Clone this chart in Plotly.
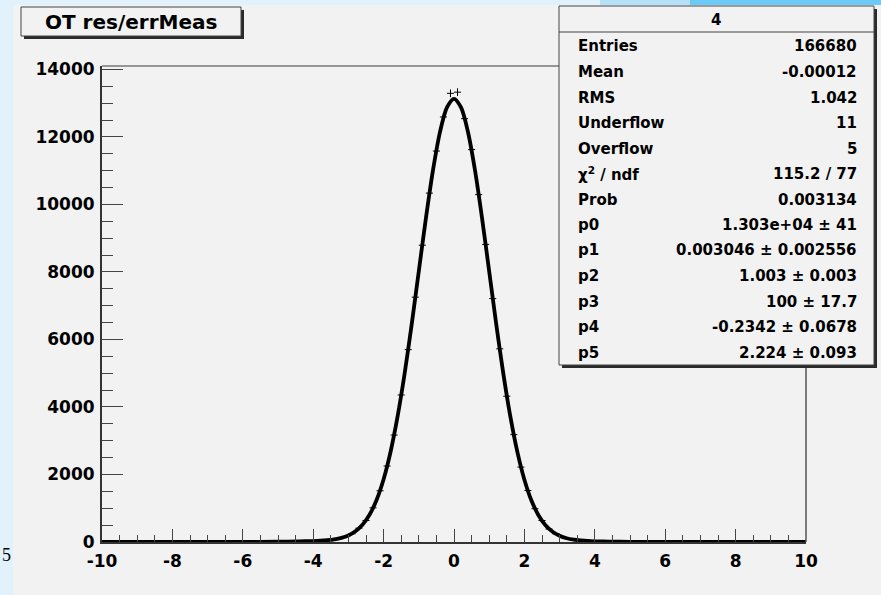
import numpy as np
import plotly.graph_objects as go

# ---------------- data ----------------
bin_width = 0.2
bin_centers = np.round(np.arange(-9.9, 10.0, bin_width), 1)

counts = [
    0, 0, 1, 0, 0, 1, 0, 0, 1, 0,
    1, 0, 1, 2, 1, 2, 1, 3, 2, 4,
    3, 5, 7, 8, 9, 12, 13, 18, 20, 26,
    34, 42, 66, 95, 158, 244, 409, 637, 1012, 1518,
    2251, 3168, 4356, 5698, 7252, 8791, 10335, 11580, 12590, 13290,
    13325, 12540, 11625, 10290, 8815, 7210, 5722, 4318, 3181, 2219,
    1525, 985, 637, 384, 241, 139, 88, 52, 36, 24,
    19, 13, 11, 9, 7, 6, 4, 5, 3, 2,
    3, 2, 1, 1, 2, 0, 1, 0, 1, 0,
    0, 1, 0, 0, 0, 1, 0, 0, 0, 0,
]

fit_x = [-10, -9, -8, -7, -6, -5, -4.4, -4.0, -3.8, -3.6, -3.4, -3.2, -3.0, -2.8, -2.6,
         -2.4, -2.2, -2.0, -1.8, -1.6, -1.4, -1.2, -1.0, -0.8, -0.6, -0.4, -0.2, 0.0,
         0.2, 0.4, 0.6, 0.8, 1.0, 1.2, 1.4, 1.6, 1.8, 2.0, 2.2, 2.4, 2.6, 2.8, 3.0,
         3.2, 3.4, 3.6, 3.8, 4.0, 4.4, 5, 6, 7, 8, 9, 10]
fit_y = [0, 0, 0.2, 1.0, 3.5, 10.1, 18.3, 28.8, 37.6, 52.8, 78.3, 121, 195, 316, 510,
         806, 1243, 1858, 2682, 3734, 5006, 6461, 8022, 9578, 10995, 12135, 12873, 13129,
         12871, 12131, 10989, 9571, 8014, 6451, 4995, 3722, 2670, 1845, 1230, 794, 497, 304, 184,
         110, 68, 44, 29, 21, 12.4, 6.3, 2.0, 0.5, 0.1, 0, 0]

x_tickvals = [-10, -8, -6, -4, -2, 0, 2, 4, 6, 8, 10]
x_ticktext = ["-10", "-8", "-6", "-4", "-2", "0", "2", "4", "6", "8", "10"]
y_tickvals = [0, 2000, 4000, 6000, 8000, 10000, 12000, 14000]
y_ticktext = ["0", "2000", "4000", "6000", "8000", "10000", "12000", "14000"]

title_text = "OT res/errMeas"
stats_header = "4"
stats_labels = ["Entries", "Mean", "RMS", "Underflow", "Overflow", "χ<sup>2</sup> / ndf", "Prob",
                "p0", "p1", "p2", "p3", "p4", "p5"]
stats_values = ["166680", "-0.00012", "1.042", "11", "5", "115.2 / 77", "0.003134",
                "1.303e+04 ± 41", "0.003046 ± 0.002556", "1.003 ± 0.003", "100 ± 17.7",
                "-0.2342 ± 0.0678", "2.224 ± 0.093"]

x_range = [-10, 10]
y_range = [0, 14100]

# ---------------- layout geometry (pixels) ----------------
W, H = 881, 595
L, R, T, B = 102, 806, 66, 542


def px(x):
    return (x - L) / (R - L)


def py(y):
    return (B - y) / (B - T)


FONT = "DejaVu Sans"
CANVAS = "#f2f2f2"

fig = go.Figure()

fig.add_trace(go.Scatter(
    x=bin_centers, y=counts, mode="markers",
    marker=dict(size=1, color="black"),
    error_y=dict(type="data", array=np.sqrt(np.array(counts, dtype=float)),
                 width=0, thickness=1, color="black"),
    error_x=dict(type="constant", value=bin_width / 2, width=0, thickness=1, color="black"),
    hoverinfo="skip", showlegend=False,
))

fig.add_trace(go.Scatter(
    x=fit_x, y=fit_y, mode="lines",
    line=dict(color="black", width=3.8, shape="spline", smoothing=0.8),
    hoverinfo="skip", showlegend=False,
))

shapes = []
# gray canvas (slide background is light blue)
shapes.append(dict(type="rect", xref="paper", yref="paper", layer="below",
                   x0=px(13), x1=px(W + 5), y0=py(5), y1=py(H + 5),
                   fillcolor=CANVAS, line=dict(width=0)))
# bright blue band at top right
shapes.append(dict(type="rect", xref="paper", yref="paper", layer="below",
                   x0=px(600), x1=px(690), y0=py(0), y1=py(5),
                   fillcolor="#b4e0f8", line=dict(width=0)))
shapes.append(dict(type="rect", xref="paper", yref="paper", layer="below",
                   x0=px(690), x1=px(W + 5), y0=py(0), y1=py(5),
                   fillcolor="#6ccaf6", line=dict(width=0)))
# frame top / right
shapes.append(dict(type="line", xref="paper", yref="paper", layer="above",
                   x0=0, x1=1, y0=1, y1=1, line=dict(color="#777777", width=1.5)))
shapes.append(dict(type="line", xref="paper", yref="paper", layer="above",
                   x0=1, x1=1, y0=0, y1=1, line=dict(color="#555555", width=1.5)))


def box(x0, y0, x1, y1):
    # shadow
    shapes.append(dict(type="rect", xref="paper", yref="paper", layer="above",
                       x0=px(x0 + 3), x1=px(x1 + 3), y0=py(y1 + 3), y1=py(y0 + 3),
                       fillcolor="#2a2a2a", line=dict(width=0)))
    shapes.append(dict(type="rect", xref="paper", yref="paper", layer="above",
                       x0=px(x0), x1=px(x1), y0=py(y1), y1=py(y0),
                       fillcolor=CANVAS, line=dict(color="#444444", width=1)))


box(21, 7, 241, 36)
box(559, 6, 874, 365)
shapes.append(dict(type="line", xref="paper", yref="paper", layer="above",
                   x0=px(559), x1=px(874), y0=py(32), y1=py(32),
                   line=dict(color="#444444", width=1.2)))

annotations = []
annotations.append(dict(text="<b>%s</b>" % title_text, x=px(131), y=py(22), xref="paper", yref="paper",
                        xanchor="center", yanchor="middle", showarrow=False,
                        font=dict(family=FONT, size=20, color="black")))
annotations.append(dict(text="<b>%s</b>" % stats_header, x=px(716), y=py(20), xref="paper", yref="paper",
                        xanchor="center", yanchor="middle", showarrow=False,
                        font=dict(family=FONT, size=15, color="black")))
for i, (lab, val) in enumerate(zip(stats_labels, stats_values)):
    yy = 46.5 + 25.5 * i
    annotations.append(dict(text="<b>%s</b>" % lab, x=px(576), y=py(yy), xref="paper", yref="paper",
                            xanchor="left", yanchor="middle", showarrow=False,
                            font=dict(family=FONT, size=15, color="black")))
    annotations.append(dict(text="<b>%s</b>" % val, x=px(859), y=py(yy), xref="paper", yref="paper",
                            xanchor="right", yanchor="middle", showarrow=False,
                            font=dict(family=FONT, size=15, color="black")))
# slide page number peeking out at the left edge
annotations.append(dict(text="5", x=px(13), y=py(555), xref="paper", yref="paper",
                        xanchor="right", yanchor="middle", showarrow=False,
                        font=dict(family="Liberation Serif", size=18, color="black")))

tickfont = dict(family=FONT, size=17, color="black", weight="bold")

fig.update_layout(
    width=W, height=H,
    margin=dict(l=L, r=W - R, t=T, b=H - B, pad=0),
    paper_bgcolor="#e2f2fd",
    plot_bgcolor="rgba(0,0,0,0)",
    shapes=shapes,
    annotations=annotations,
    xaxis=dict(range=x_range, showgrid=False, zeroline=False, showline=True,
               linecolor="#333333", linewidth=2, ticks="inside", ticklen=13, tickwidth=1,
               tickcolor="#444444", tickmode="array", tickvals=x_tickvals, ticktext=x_ticktext,
               tickfont=tickfont, ticklabelstandoff=3,
               minor=dict(ticks="inside", ticklen=7, dtick=0.5, tickwidth=1, tickcolor="#444444",
                          showgrid=False),
               fixedrange=True),
    yaxis=dict(range=y_range, showgrid=False, zeroline=False, showline=True,
               linecolor="#333333", linewidth=2, ticks="inside", ticklen=21, tickwidth=1,
               tickcolor="#444444", tickmode="array", tickvals=y_tickvals, ticktext=y_ticktext,
               tickfont=tickfont, ticklabelstandoff=2,
               minor=dict(ticks="inside", ticklen=11, dtick=500, tickwidth=1, tickcolor="#444444",
                          showgrid=False),
               fixedrange=True),
    showlegend=False,
)

fig.write_html("out.html")
